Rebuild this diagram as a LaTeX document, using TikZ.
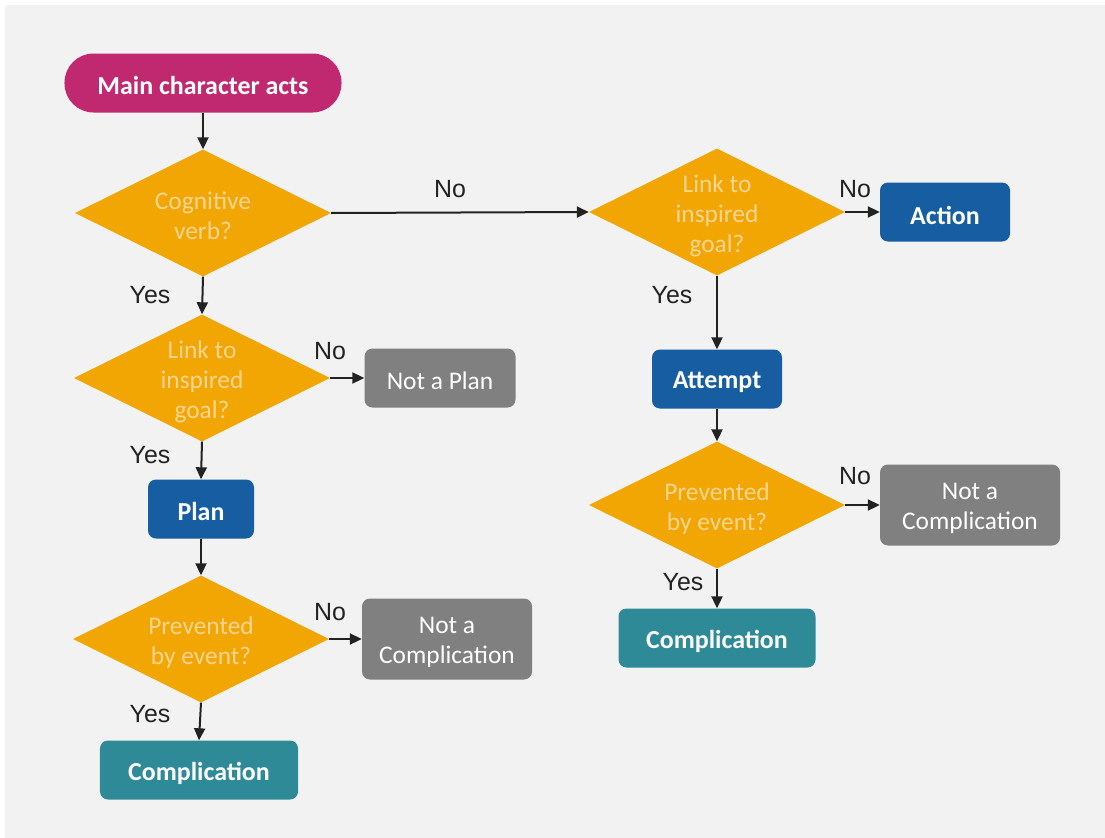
\documentclass[tikz,border=0pt]{standalone}
\usepackage{fontspec}
\setmainfont{Carlito}
\newfontfamily\labelfont{Liberation Sans}
\usetikzlibrary{shapes.geometric,arrows.meta}
\definecolor{bgray}{HTML}{F2F2F2}
\definecolor{startc}{HTML}{C0286F}
\definecolor{decc}{HTML}{F2A603}
\definecolor{dectext}{HTML}{FCD591}
\definecolor{procc}{HTML}{165EA1}
\definecolor{negc}{HTML}{808080}
\definecolor{compc}{HTML}{2F8A97}
\definecolor{linec}{HTML}{222222}
\tikzset{
  every node/.style={font=\fontsize{25.5}{30}\selectfont},
  % shapes
  startbox/.style={fill=startc, rounded corners=29bp, minimum width=277bp, minimum height=59bp},
  decision/.style={diamond, fill=decc, minimum width=256bp, minimum height=127bp, inner sep=0pt},
  procbox/.style={fill=procc, rounded corners=8bp, minimum height=59bp},
  negbox/.style={fill=negc, rounded corners=8bp},
  compbox/.style={fill=compc, rounded corners=8bp, minimum width=198bp, minimum height=59bp},
  % texts set a little below the shape centre
  boldtext/.style={text=white, inner sep=0pt, font=\fontsize{26}{30}\selectfont\bfseries},
  plaintext/.style={text=white, inner sep=0pt, align=center},
  dtext/.style={text=dectext, align=center, inner sep=0pt},
  flow/.style={draw=linec, line width=2bp, -{Triangle[length=12bp,width=11bp]}},
  answer/.style={text=linec, font=\labelfont\fontsize{25}{28}\selectfont},
}
\begin{document}
\begin{tikzpicture}[x=1bp,y=-1bp]
\useasboundingbox (0,0) rectangle (1105,838);
\fill[bgray] (5,5) rectangle (1105,838);

% left column
\node[startbox] (start) at (203,83) {};
\node[boldtext] (startT) at ([yshift=-3bp]start.center) {Main character acts};
\node[decision] (cog) at (203,213) {};
\node[dtext] (cogT) at ([yshift=-3bp]cog.center) {Cognitive\\verb?};
\node[decision] (linkL) at (202,378) {};
\node[dtext] (linkLT) at ([yshift=-4bp]linkL.center) {Link to\\inspired\\goal?};
\node[negbox, minimum width=151bp, minimum height=59bp] (notplan) at (440,378) {};
\node[plaintext] (notplanT) at ([yshift=-3bp]notplan.center) {Not a Plan};
\node[procbox, minimum width=106bp] (plan) at (201,509) {};
\node[boldtext] (planT) at ([yshift=-3bp]plan.center) {Plan};
\node[decision] (prevL) at (201,639) {};
\node[dtext] (prevLT) at ([yshift=-4bp]prevL.center) {Prevented\\by event?};
\node[negbox, minimum width=170bp, minimum height=81bp] (notcompL) at (447,639) {};
\node[plaintext] (notcompLT) at ([yshift=-3bp]notcompL.center) {Not a\\Complication};
\node[compbox] (compL) at (199,770) {};
\node[boldtext] (compLT) at ([yshift=-3bp]compL.center) {Complication};

% right column
\node[decision] (linkR) at (717,212) {};
\node[dtext] (linkRT) at ([yshift=-4bp]linkR.center) {Link to\\inspired\\goal?};
\node[procbox, minimum width=130bp] (action) at (945,212) {};
\node[boldtext] (actionT) at ([yshift=-3bp]action.center) {Action};
\node[procbox, minimum width=130bp] (attempt) at (717,379) {};
\node[boldtext] (attemptT) at ([yshift=-3bp]attempt.center) {Attempt};
\node[decision] (prevR) at (717,505) {};
\node[dtext] (prevRT) at ([yshift=-4bp]prevR.center) {Prevented\\by event?};
\node[negbox, minimum width=180bp, minimum height=81bp] (notcompR) at (970,505) {};
\node[plaintext] (notcompRT) at ([yshift=-3bp]notcompR.center) {Not a\\Complication};
\node[compbox, minimum width=197bp] (compR) at (717,638) {};
\node[boldtext] (compRT) at ([yshift=-3bp]compR.center) {Complication};

% connectors
\draw[flow] (start) -- (cog);
\draw[flow] (cog.south) -- (linkL.north);
\draw[flow] (cog.east) -- (linkR.west);
\draw[flow] (linkL.east) -- (notplan.west);
\draw[flow] (linkL.south) -- (plan.north);
\draw[flow] (plan.south) -- (prevL.north);
\draw[flow] (prevL.east) -- (notcompL.west);
\draw[flow] (prevL.south) -- (compL.north);
\draw[flow] (linkR.east) -- (action.west);
\draw[flow] (linkR.south) -- (attempt.north);
\draw[flow] (attempt.south) -- (prevR.north);
\draw[flow] (prevR.east) -- (notcompR.west);
\draw[flow] (prevR.south) -- (compR.north);

% branch answers
\node[answer] (a1) at (450,189) {No};
\node[answer] (a2) at (150,295) {Yes};
\node[answer] (a3) at (330,351) {No};
\node[answer] (a4) at (150,455) {Yes};
\node[answer] (a5) at (330,612) {No};
\node[answer] (a6) at (150,714) {Yes};
\node[answer] (a7) at (855,189) {No};
\node[answer] (a8) at (672,295) {Yes};
\node[answer] (a9) at (855,476) {No};
\node[answer] (a10) at (683,582) {Yes};
\end{tikzpicture}
\end{document}
